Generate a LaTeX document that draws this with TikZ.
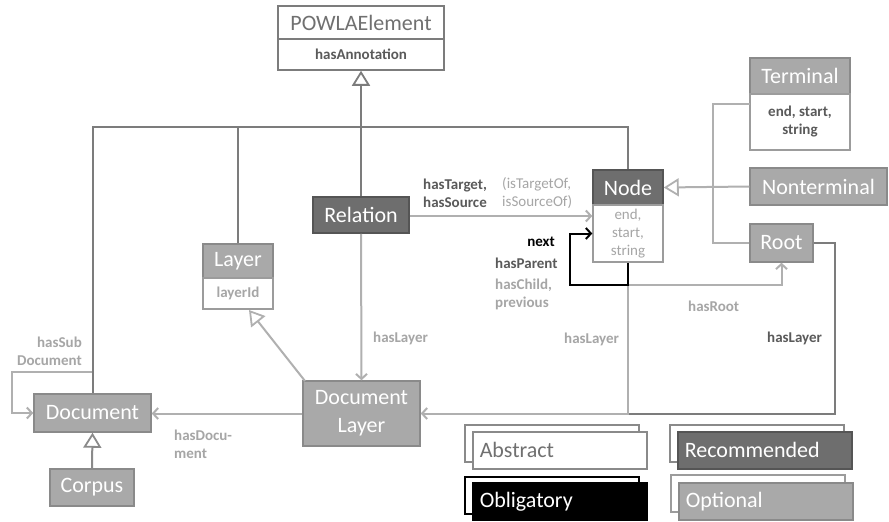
\documentclass[tikz,border=0pt]{standalone}
\usepackage{fontspec}
\setmainfont{Carlito}
\usetikzlibrary{arrows.meta,calc}
\definecolor{dkg}{HTML}{6E6E6E}
\definecolor{ltg}{HTML}{A9A9A9}
\definecolor{lnd}{HTML}{7C7C7C}
\definecolor{lnl}{HTML}{B0B0B0}
\definecolor{txd}{HTML}{5A5A5A}
\definecolor{txl}{HTML}{A6A6A6}
\definecolor{txw}{HTML}{707070}
\definecolor{bdd}{HTML}{555555}
\definecolor{bdl}{HTML}{8A8A8A}
\definecolor{bdw}{HTML}{9C9C9C}
\begin{document}
\begin{tikzpicture}[x=1pt,y=-1pt,
  box/.style={draw, line width=1.5pt, inner sep=0pt, anchor=center, align=center,
    font=\fontsize{22}{28}\selectfont, text=white},
  darkbox/.style={box, fill=dkg, draw=bdd},
  lightbox/.style={box, fill=ltg, draw=bdl},
  whitebox/.style={box, fill=white, draw=bdw, font=\bfseries\fontsize{15}{18}\selectfont, text=txd},
  lbl/.style={font=\bfseries\fontsize{15}{18}\selectfont, inner sep=0pt, align=left},
  conn/.style={line width=2pt, line join=miter},
  dline/.style={conn, draw=lnd},
  lline/.style={conn, draw=lnl},
  inh/.style={-{Triangle[open,fill=white,length=15pt,width=18pt,line width=1.8pt]}},
  arr/.style={-{Straight Barb[length=5pt,width=11pt,line width=2pt]}},
  legback/.style={draw, line width=1.5pt, fill=white, minimum width=174pt, minimum height=37pt, inner sep=0pt},
  legfront/.style={draw, line width=1.5pt, minimum width=174pt, minimum height=37pt, inner sep=0pt,
    font=\fontsize{22}{26}\selectfont, text width=160pt, align=left}
]
\useasboundingbox (0,0) rectangle (889,522);
\fill[white] (0,0) rectangle (889,522);

% ---------- helper coordinates ----------
\coordinate (j1) at (361,127);
\coordinate (j2) at (713,187);
\coordinate (tj) at (750,104);
\coordinate (nb) at (628,285);
\coordinate (n1) at (570,285);
\coordinate (n2) at (570,233.5);
\coordinate (c1) at (628,413.5);
\coordinate (r1) at (835,413.5);
\coordinate (s1) at (93,372);
\coordinate (s2) at (12,372);
\coordinate (lt) at (249,310);
\coordinate (dlt) at (305,381);

% ---------- class boxes ----------
\node[box, fill=white, draw=lnd, text=txw, minimum width=166pt, minimum height=33pt] (pwh) at (361,22.5) {POWLAElement};
\node[whitebox, draw=lnd, minimum width=166pt, minimum height=31pt] (pwb) at (361,54.5) {hasAnnotation};

\node[lightbox, minimum width=100pt, minimum height=36pt] (termh) at (800,76) {Terminal};
\node[whitebox, minimum width=100pt, minimum height=56pt] (termb) at (800,122) {end, start,\\string};

\node[darkbox, minimum width=70pt, minimum height=35pt] (nodeh) at (628,187.5) {Node};
\node[whitebox, text=txl, font=\fontsize{15}{18}\selectfont, minimum width=70pt, minimum height=57pt] (nodeb) at (628,233.5) {end,\\start,\\string};

\node[lightbox, minimum width=70pt, minimum height=34pt] (layh) at (238,261) {Layer};
\node[whitebox, text=txl, minimum width=70pt, minimum height=31pt] (layb) at (238,293.5) {layerId};

\node[darkbox, minimum width=96pt, minimum height=36pt] (rel) at (361,215) {Relation};
\node[lightbox, minimum width=137pt, minimum height=37pt] (nt) at (818.5,186.5) {Nonterminal};
\node[lightbox, minimum width=63pt, minimum height=38pt] (root) at (781.5,243) {Root};
\node[lightbox, minimum width=117pt, minimum height=65pt] (dl) at (361.5,413.5) {Document\\Layer};
\node[lightbox, minimum width=117pt, minimum height=38pt] (doc) at (92.5,413) {Document};
\node[lightbox, minimum width=84pt, minimum height=37pt] (corp) at (92,487.5) {Corpus};

% ---------- inheritance to POWLAElement ----------
\draw[dline] (nodeh.north) |- (j1) -| (doc.north);
\draw[dline] (layh.north) -- (layh.north |- j1);
\draw[dline, inh] (rel.north) -- (pwb.south);

% ---------- Node subclasses ----------
\draw[lline] (tj) -| (j2);
\draw[lline] (root.west) -| (j2);
\draw[lline, inh] (nt.west) -- (nodeh.east);

% ---------- Relation -> Node ----------
\draw[lline, arr] (rel.east |- 0,216) -- (nodeb.west |- 0,216);

% ---------- hasLayer from Node and Root ----------
\draw[dline] (root.east) -| (r1) -- (c1);
\draw[lline, arr] (nodeb.south) -- (c1) -- (dl.east);
\draw[lline, arr] (nb) -| (root.south);
\draw[conn, draw=black, arr] (nodeb.south) -- (nb) -- (n1) -- (n2) -- (nodeb.west);

% ---------- Relation -> Document Layer ----------
\draw[lline, arr] (rel.south) -- (dl.north);
% ---------- Document Layer -> Layer ----------
\draw[lline, inh] (dlt) -- (lt);
% ---------- Document Layer -> Document ----------
\draw[lline, arr] (dl.west) -- (dl.west -| doc.east);
% ---------- hasSubDocument ----------
\draw[lline, arr] (s1) -- (s2) |- (doc.west);
\draw[dline] (j1 -| doc.north) -- (doc.north);
% ---------- Corpus -> Document ----------
\draw[lline, draw=bdl, inh] (corp.north) -- (doc.south);

% ---------- labels ----------
\node[lbl, text=txd, anchor=west] (l1) at (423,193.5) {hasTarget,\\hasSource};
\node[lbl, text=txl, font=\fontsize{15}{18}\selectfont, anchor=west] (l2) at (502,193.5) {(isTargetOf,\\isSourceOf)};
\node[lbl, text=black, anchor=east] (l3) at (555,242) {next};
\node[lbl, text=txd, anchor=west] (l4) at (495,263) {hasParent};
\node[lbl, text=txl, anchor=west] (l5) at (495,294) {hasChild,\\previous};
\node[lbl, text=txl, anchor=west] (l6) at (688,306) {hasRoot};
\node[lbl, text=txl, anchor=west] (l7) at (564,339) {hasLayer};
\node[lbl, text=txd, anchor=west] (l8) at (767,338) {hasLayer};
\node[lbl, text=txl, anchor=west] (l9) at (373,338) {hasLayer};
\node[lbl, text=txl, anchor=east, align=right] (l10) at (82,351) {hasSub\\Document};
\node[lbl, text=txl, anchor=west] (l11) at (174,444) {hasDocu-\\ment};

% ---------- legend ----------
\node[legback, draw=bdl, anchor=north west] (ab1) at (464,424) {};
\node[legfront, draw=bdl, fill=white, text=txw, anchor=north west] (ab2) at (472,431) {Abstract};
\node[legback, draw=black, anchor=north west] (ob1) at (464,476) {};
\node[legfront, draw=black, fill=black, text=white, anchor=north west] (ob2) at (472,482) {Obligatory};
\node[legback, draw=bdl, anchor=north west] (re1) at (669,424) {};
\node[legfront, draw=bdd, fill=dkg, text=white, anchor=north west] (re2) at (677,431) {Recommended};
\node[legback, draw=bdw, anchor=north west] (op1) at (670,474) {};
\node[legfront, draw=bdl, fill=ltg, text=white, anchor=north west] (op2) at (678,482) {Optional};
\end{tikzpicture}
\end{document}
